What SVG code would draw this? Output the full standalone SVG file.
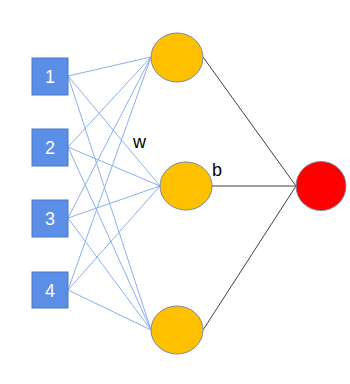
<svg xmlns="http://www.w3.org/2000/svg" width="350" height="384" viewBox="0 0 350 384">
<style>
.box{fill:#5b8ee6;stroke:#4a78c8;stroke-width:1}
.num{fill:#fff;font-family:"Liberation Sans",Arial,sans-serif;font-size:18px;text-anchor:middle}
.hid{fill:#ffc000;stroke:#7d8aa0;stroke-width:1}
.out{fill:#ff0000;stroke:#7d8aa0;stroke-width:1}
.w{stroke:#8ab0ee;stroke-width:1;fill:none}
.k{stroke:#404040;stroke-width:1;fill:none}
.lbl{fill:#000;font-family:"Liberation Sans",Arial,sans-serif;font-size:18px}
</style>
<rect width="350" height="384" fill="#fff"/>
<g id="connectors">
<line class="w" x1="68" y1="76" x2="151" y2="57"/>
<line class="w" x1="68" y1="76" x2="160" y2="186"/>
<line class="w" x1="68" y1="76" x2="151" y2="330"/>
<line class="w" x1="68" y1="147" x2="151" y2="57"/>
<line class="w" x1="68" y1="147" x2="160" y2="186"/>
<line class="w" x1="68" y1="147" x2="151" y2="330"/>
<line class="w" x1="68" y1="218" x2="151" y2="57"/>
<line class="w" x1="68" y1="218" x2="160" y2="186"/>
<line class="w" x1="68" y1="218" x2="151" y2="330"/>
<line class="w" x1="68" y1="290" x2="151" y2="57"/>
<line class="w" x1="68" y1="290" x2="160" y2="186"/>
<line class="w" x1="68" y1="290" x2="151" y2="330"/>
<line class="k" x1="203" y1="57" x2="296" y2="186"/>
<line class="k" x1="212" y1="186" x2="296" y2="186"/>
<line class="k" x1="203" y1="330" x2="296" y2="186"/>
<text class="lbl" x="133" y="148">w</text>
<text class="lbl" x="212" y="176">b</text>
</g>
<g id="in1"><rect class="box" x="32" y="58" width="36" height="37"/><text class="num" x="50" y="83">1</text></g>
<g id="in2"><rect class="box" x="32" y="129" width="36" height="37"/><text class="num" x="50" y="154">2</text></g>
<g id="in3"><rect class="box" x="32" y="200" width="36" height="37"/><text class="num" x="50" y="225">3</text></g>
<g id="in4"><rect class="box" x="32" y="272" width="36" height="36"/><text class="num" x="50" y="297">4</text></g>
<g id="h1"><ellipse class="hid" cx="177" cy="57.5" rx="26" ry="24.5"/></g>
<g id="h2"><ellipse class="hid" cx="186" cy="186" rx="26" ry="24"/></g>
<g id="h3"><ellipse class="hid" cx="177" cy="330" rx="26" ry="24"/></g>
<g id="out"><ellipse class="out" cx="321" cy="186" rx="25" ry="24.5"/></g>
</svg>
